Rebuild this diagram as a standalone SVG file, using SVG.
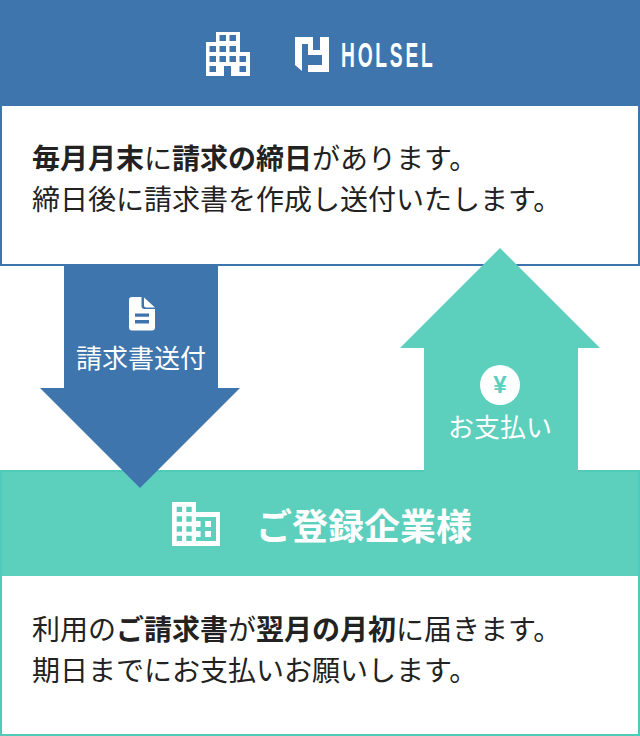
<svg xmlns="http://www.w3.org/2000/svg" width="640" height="736" viewBox="0 0 640 736">
<style>
text{font-family:"Noto Sans CJK JP","Noto Sans",sans-serif}
.body{font-size:28px;fill:#222}
.body .b{font-weight:700}
.lab{font-size:26px;fill:#fff;text-anchor:middle}
</style>
<rect width="640" height="736" fill="#fff"/>
<g id="holsel">
<rect x="1" y="1" width="638" height="264" fill="#fff" stroke="#3f75ad" stroke-width="2"/>
<rect width="640" height="106" fill="#3f75ad"/>
<path fill="#fff" fill-rule="evenodd" d="M216 32h24v20h10v24h-19v-10h-7v10h-18v-34h10zM219.500 35v6h6.500v-6zM229.500 35v6h6.500v-6zM209.500 46v6h6.500v-6zM219.500 46v6h6.500v-6zM229.500 46v6h6.500v-6zM209.500 56v6h6.500v-6zM219.500 56v6h6.500v-6zM229.500 56v6h6.500v-6zM239.500 56v6h6.500v-6zM209.500 66v6h6.500v-6zM239.500 66v6h6.500v-6z"/>
<path fill="#fff" d="M295 37H313V50H320V37L329 37V72H308V65H322V55H308V44H302V71L295 65Z"/>
<text x="341" y="67" font-size="35" font-weight="700" fill="#fff" letter-spacing="5" transform="translate(341 67) scale(.55 1) translate(-341 -67)" style="font-family:'Liberation Sans',sans-serif">HOLSEL</text>
<text class="body" y="169"><tspan x="32" class="b">毎月月末</tspan><tspan>に</tspan><tspan class="b">請求の締日</tspan><tspan>があります。</tspan></text>
<text class="body" x="32" y="210">締日後に請求書を作成し送付いたします。</text>
</g>
<g id="customer">
<rect y="470" width="640" height="106" fill="#5ccfbd"/>
<rect x="1" y="471" width="638" height="264" fill="none" stroke="#4fccb9" stroke-width="2"/>
<path fill="#fff" fill-rule="evenodd" d="M172 502h24v10h24v34h-48zM176.700 506.700v5.300h5.300v-5.300zM186.300 506.700v5.300h5.400v-5.300zM176.700 516.300v5.400h5.300v-5.400zM186.300 516.300v5.400h5.400v-5.400zM176.700 526.300v5.400h5.300v-5.400zM186.300 526.300v5.400h5.400v-5.400zM176.700 535.700v5.300h5.300v-5.300zM186.300 535.700v5.300h5.400v-5.300z"/>
<path fill="#5ccfbd" d="M196 517h20v24h-20z"/>
<path fill="#fff" d="M196 521h4.600v6h-4.600zM196 531h4.600v6h-4.600zM205 521h6v6h-6zM205 531h6v6h-6z"/>
<text x="364" y="540" font-size="36" font-weight="700" fill="#fff" text-anchor="middle">ご登録企業様</text>
<text class="body" y="640"><tspan x="32">利用の</tspan><tspan class="b">ご請求書</tspan><tspan>が</tspan><tspan class="b">翌月の月初</tspan><tspan>に届きます。</tspan></text>
<text class="body" x="32" y="681">期日までにお支払いお願いします。</text>
</g>
<g id="connectors">
<polygon id="arrow-invoice" points="64,266 218,266 218,388 240,388 140,488 40,388 64,388" fill="#3f75ad"/>
<polygon id="arrow-payment" points="500,248 600,348 578,348 578,472 424,472 424,348 400,348" fill="#5ccfbd"/>
</g>
<g id="invoice-label">
<path fill="#fff" d="M132 297H141.500V306a3 3 0 0 0 3 3H155V327.500a3 3 0 0 1-3 3H132a3 3 0 0 1-3-3V300a3 3 0 0 1 3-3Z"/>
<path fill="#fff" d="M144 297.500L155 307.500H146a2 2 0 0 1-2-2Z"/>
<path fill="#3f75ad" d="M135 313.500h14v3.200h-14zM135 320h14v3.500h-14z"/>
<text class="lab" x="141" y="368">請求書送付</text>
</g>
<g id="payment-label">
<circle cx="500" cy="385" r="20" fill="#fff"/>
<text x="500" y="393" font-size="24" font-weight="700" fill="#5ccfbd" text-anchor="middle" style="font-family:'Liberation Sans',sans-serif">¥</text>
<text class="lab" x="500" y="437">お支払い</text>
</g>
</svg>
